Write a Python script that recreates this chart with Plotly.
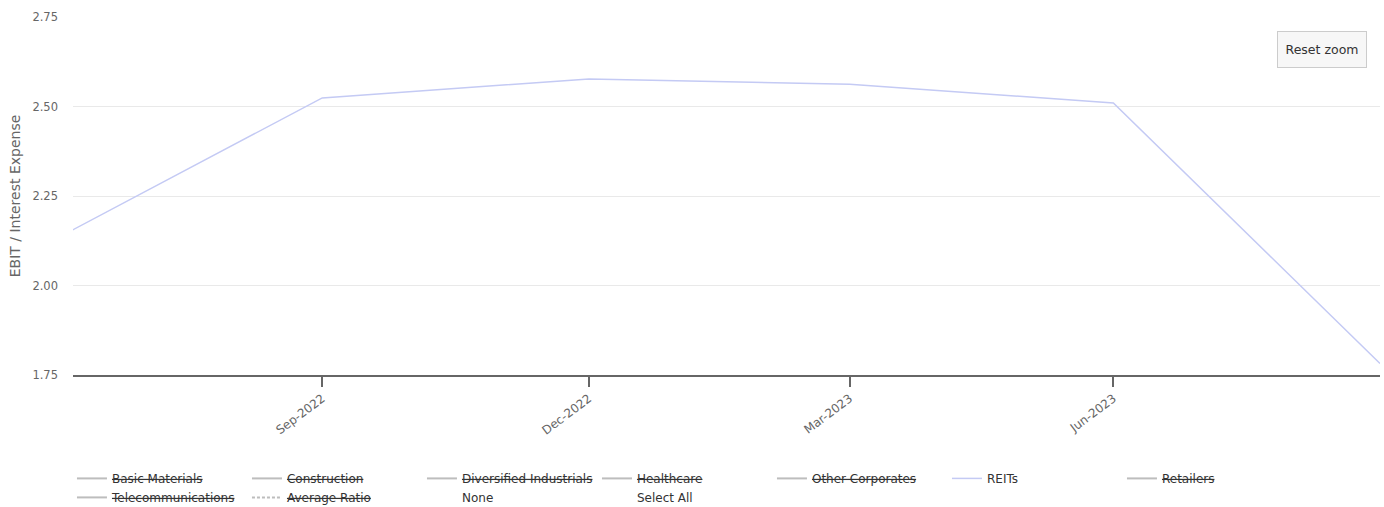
import plotly.graph_objects as go

# ---- data ----
dates = ["2022-06-30", "2022-09-30", "2022-12-31", "2023-03-31", "2023-06-30", "2023-09-30"]
reits = [2.13, 2.524, 2.577, 2.562, 2.510, 1.782]

tick_dates = ["2022-09-30", "2022-12-31", "2023-03-31", "2023-06-30"]
tick_labels = ["Sep-2022", "Dec-2022", "Mar-2023", "Jun-2023"]

y_ticks = [1.75, 2.00, 2.25, 2.50, 2.75]

legend_items = ["Basic Materials", "Construction", "Diversified Industrials", "Healthcare",
                "Other Corporates", "REITs", "Retailers", "Telecommunications", "Average Ratio",
                "None", "Select All"]
hidden = {"Basic Materials", "Construction", "Diversified Industrials", "Healthcare",
          "Other Corporates", "Retailers", "Telecommunications", "Average Ratio"}

REIT_COLOR = "#c4caf4"
HIDDEN_COLOR = "#bdbdbd"
FONT = "DejaVu Sans, Verdana, sans-serif"

fig = go.Figure()
for name in legend_items:
    if name == "REITs":
        fig.add_trace(go.Scatter(x=dates, y=reits, mode="lines", name="REITs",
                                 line=dict(color=REIT_COLOR, width=1.5), hoverinfo="x+y"))
    elif name in hidden:
        fig.add_trace(go.Scatter(x=[None], y=[None], mode="lines",
                                 name="<s>" + name + "</s>",
                                 line=dict(color=HIDDEN_COLOR, width=2,
                                           dash="3px,2px" if name == "Average Ratio" else "solid")))
    else:
        fig.add_trace(go.Scatter(x=[None], y=[None], mode="lines", name=name,
                                 line=dict(color="rgba(0,0,0,0)", width=0)))

fig.update_layout(
    width=1384, height=507,
    margin=dict(l=73, r=4, t=17, b=132),
    paper_bgcolor="white", plot_bgcolor="white",
    font=dict(family=FONT, size=12, color="#333333"),
    showlegend=True,
    legend=dict(orientation="h", xref="container", yref="container",
                x=0.052, y=0.085, xanchor="left", yanchor="top",
                entrywidthmode="pixels", entrywidth=130,
                font=dict(family=FONT, size=12, color="#333333"), traceorder="normal",
                bgcolor="rgba(0,0,0,0)", itemclick=False, itemdoubleclick=False),
    xaxis=dict(
        type="date",
        range=["2022-07-06", "2023-09-30"],
        tickmode="array", tickvals=tick_dates, ticktext=tick_labels,
        tickangle=-37, ticks="outside", ticklen=10, tickcolor="#666666", tickwidth=1.5,
        showgrid=False, showline=True, linecolor="#666666", linewidth=2,
        tickfont=dict(family=FONT, size=12, color="#666666"), zeroline=False,
    ),
    yaxis=dict(
        range=[1.75, 2.75], tickmode="array", tickvals=y_ticks,
        tickformat=".2f", showgrid=True, gridcolor="#e9e9e9", gridwidth=1,
        zeroline=False, showline=False, ticks="",
        ticklabelstandoff=14,
        tickfont=dict(family=FONT, size=11.5, color="#666666"),
        title=dict(text="EBIT / Interest Expense", standoff=8,
                   font=dict(family=FONT, size=14, color="#666666")),
    ),
    annotations=[dict(
        text="Reset zoom", xref="paper", yref="paper", x=0.956, y=0.909,
        xanchor="center", yanchor="middle", showarrow=False,
        width=86, height=33, bgcolor="#f7f7f7", bordercolor="#cccccc",
        borderwidth=1, borderpad=1, font=dict(family=FONT, size=12.5, color="#333333"))],
)

fig.write_html("out.html")
